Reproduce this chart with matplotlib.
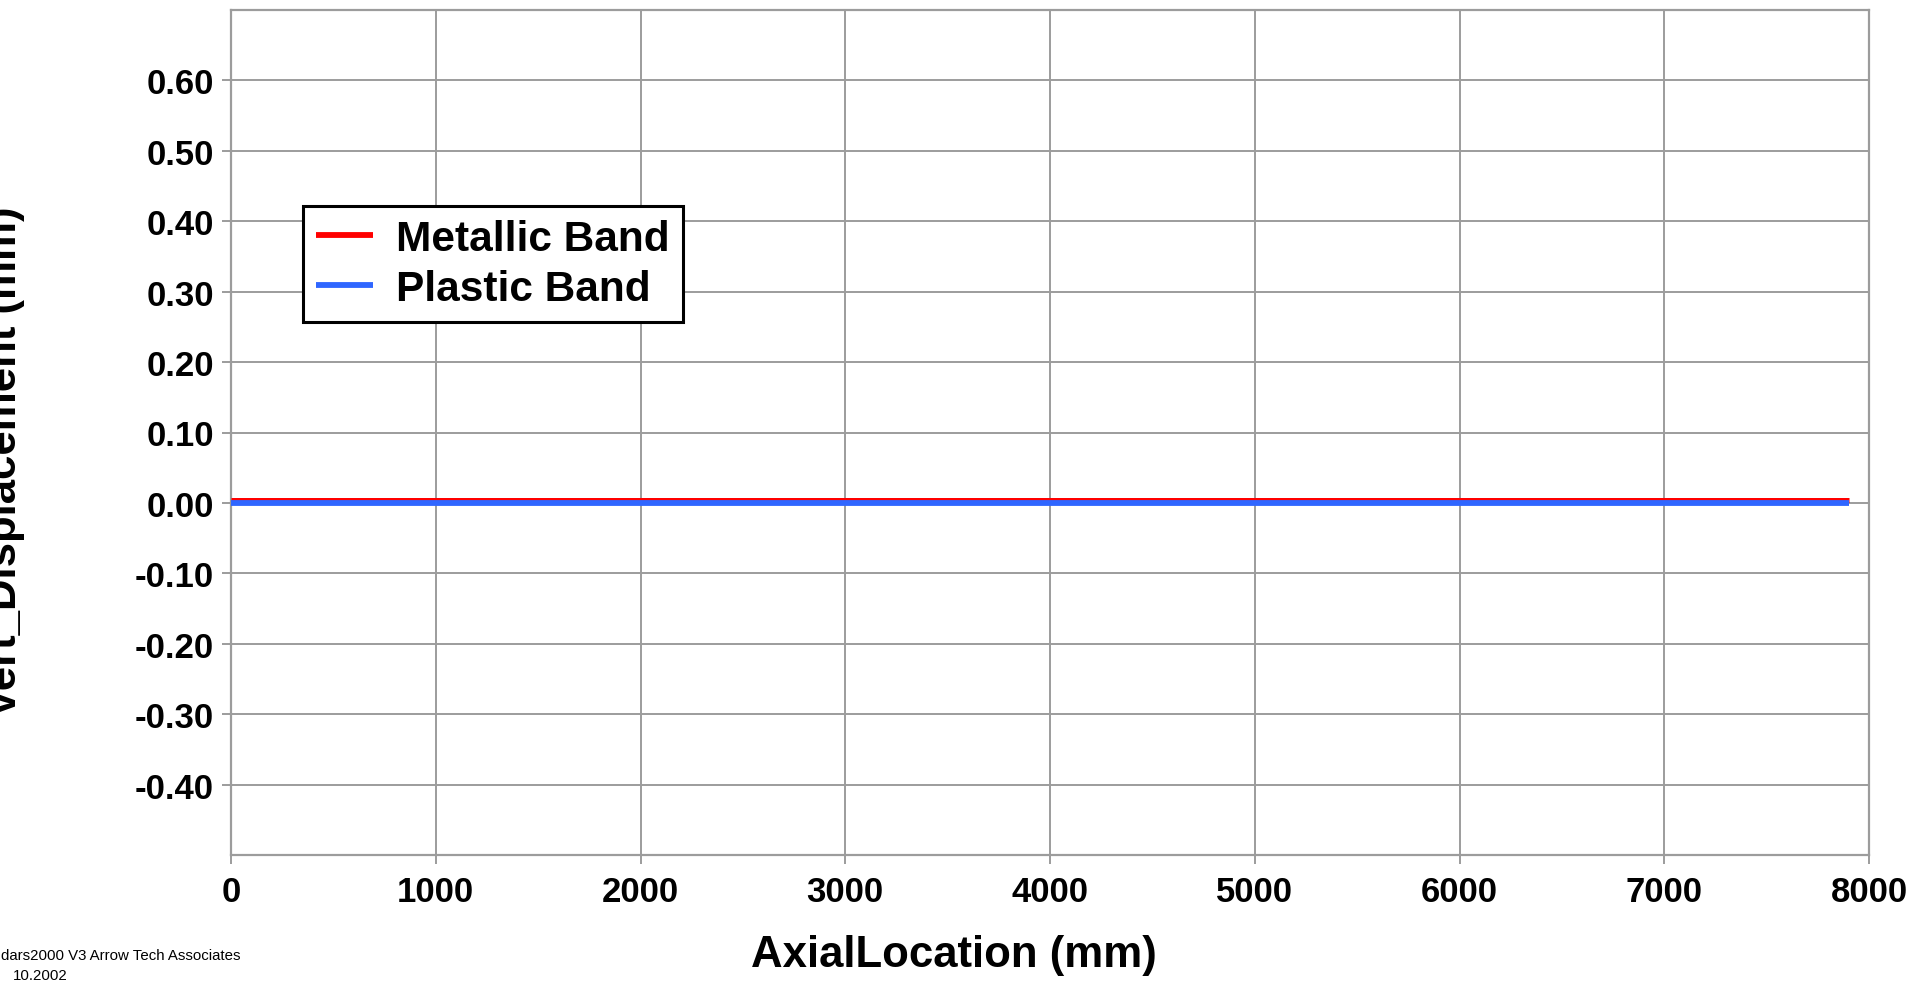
import matplotlib
matplotlib.use("Agg")
import matplotlib.pyplot as plt

# data
axial_location = [0, 7900]          # mm
metallic_band = [0.004, 0.004]      # vert displacement, mm
plastic_band = [0.0, 0.0]
x_ticks = [0, 1000, 2000, 3000, 4000, 5000, 6000, 7000, 8000]
y_ticks = [-0.4, -0.3, -0.2, -0.1, 0.0, 0.1, 0.2, 0.3, 0.4, 0.5, 0.6]

W, H = 1920, 987
GRID = "#9c9c9c"

plt.rcParams["font.family"] = ["Liberation Sans", "DejaVu Sans"]

fig = plt.figure(figsize=(W / 100, H / 100), dpi=100)
ax = fig.add_axes([231 / W, 1 - 856 / H, (1869 - 231) / W, (856 - 11) / H])

ax.plot(axial_location, metallic_band, color="#ff0000", lw=3.6,
        label="Metallic Band", solid_capstyle="butt", zorder=3)
ax.plot(axial_location, plastic_band, color="#2f66ff", lw=4.2,
        label="Plastic Band", solid_capstyle="butt", zorder=4)

ax.set_xlim(0, 8000)
ax.set_ylim(-0.5, 0.7)
ax.set_xticks(x_ticks)
ax.set_xticklabels([str(v) for v in x_ticks])
ax.set_yticks(y_ticks)
ax.set_yticklabels([f"{v:.2f}" for v in y_ticks])

ax.grid(True, color=GRID, lw=1.4)
ax.set_axisbelow(True)
for sp in ax.spines.values():
    sp.set_color(GRID)
    sp.set_linewidth(1.6)

ax.tick_params(axis="both", direction="out", length=6.5, width=1.4,
               color=GRID, labelsize=25)
ax.tick_params(axis="x", pad=8)
ax.tick_params(axis="y", pad=6)
for lbl in ax.get_xticklabels() + ax.get_yticklabels():
    lbl.set_fontweight("bold")

leg = ax.legend(loc="upper left", bbox_to_anchor=(303 / W, 1 - 207 / H),
                bbox_transform=fig.transFigure, borderaxespad=0,
                prop={"size": 30.5, "weight": "bold"},
                handlelength=1.35, handletextpad=0.55, borderpad=0.3,
                labelspacing=0.25, fancybox=False, framealpha=1)
leg.get_frame().set_edgecolor("black")
leg.get_frame().set_linewidth(2.2)
for h in leg.get_lines():
    h.set_linewidth(4.2)

fig.text(954 / W, 1 - 967 / H, "AxialLocation (mm)", ha="center",
         va="baseline", fontsize=31.5, fontweight="bold")
fig.text(25 / W, 1 - 462 / H, "Vert_Displacement (mm)", rotation=90,
         ha="right", va="center", fontsize=31.5, fontweight="bold")

fig.text(1 / W, 1 - 960 / H, "dars2000 V3 Arrow Tech Associates",
         ha="left", va="baseline", fontsize=10.8)
fig.text(13 / W, 1 - 980 / H, "10.2002", ha="left", va="baseline",
         fontsize=10.8)

fig.savefig("out.png", dpi=100, facecolor="white")
